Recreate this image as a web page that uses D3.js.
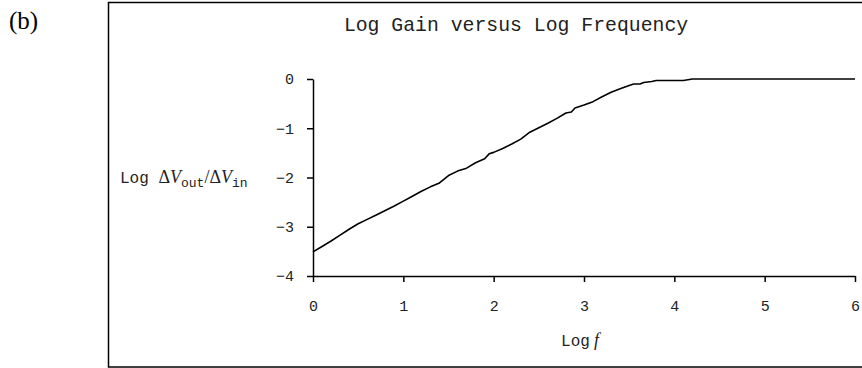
<!DOCTYPE html>
<html>
<head>
<meta charset="utf-8">
<script src="https://cdn.jsdelivr.net/npm/d3@7"></script>
<style>
  html, body { margin: 0; padding: 0; background: #fff; }
  svg { display: block; }
</style>
</head>
<body>
<svg id="chart" width="862" height="368"></svg>
<script>
// Log frequency (decades) and measured log gain
const logF = [0.0, 0.1, 0.2, 0.3, 0.4, 0.5, 0.6, 0.7, 0.8, 0.9, 1.0, 1.1, 1.2, 1.3, 1.4,
  1.5, 1.6, 1.7, 1.8, 1.9, 1.95, 2.0, 2.1, 2.2, 2.3, 2.4, 2.5, 2.6, 2.7, 2.8, 2.86,
  2.9, 3.0, 3.1, 3.2, 3.3, 3.4, 3.5, 3.55, 3.62, 3.66, 3.75, 3.8, 4.1, 4.2, 6.0];
const logGain = [-3.51, -3.40, -3.29, -3.17, -3.05, -2.94, -2.85, -2.76, -2.67, -2.58, -2.48, -2.38, -2.28, -2.19, -2.11,
  -1.96, -1.87, -1.81, -1.70, -1.62, -1.52, -1.49, -1.41, -1.32, -1.22, -1.08, -0.99, -0.90, -0.80, -0.69, -0.67,
  -0.59, -0.53, -0.46, -0.36, -0.27, -0.20, -0.13, -0.10, -0.10, -0.07, -0.05, -0.03, -0.03, 0.0, 0.0];
const xTicks = [0, 1, 2, 3, 4, 5, 6];
const yTicks = [0, -1, -2, -3, -4];

const svg = d3.select("#chart");
const mono = "'Liberation Mono', 'Courier New', monospace";
const serif = "'Liberation Serif', 'Times New Roman', serif";

// panel label
svg.append("text").attr("x", 9).attr("y", 29)
  .attr("font-family", serif).attr("font-size", 25).text("(b)");

// outer frame
svg.append("rect").attr("x", 108.5).attr("y", 2.5).attr("width", 760).attr("height", 364.5)
  .attr("fill", "none").attr("stroke", "#000").attr("stroke-width", 1.5);

const x = d3.scaleLinear().domain([0, 6]).range([313, 855]);
const y = d3.scaleLinear().domain([-4, 0]).range([276, 79]);

const fmt = d => d < 0 ? "\u2212" + Math.abs(d) : String(d);

const xAxis = svg.append("g").attr("transform", "translate(0,276)")
  .call(d3.axisBottom(x).tickValues(xTicks).tickFormat(fmt).tickSize(6).tickSizeOuter(0).tickPadding(18));
const yAxis = svg.append("g").attr("transform", "translate(313,0)")
  .call(d3.axisLeft(y).tickValues(yTicks).tickFormat(fmt).tickSize(6).tickSizeOuter(0).tickPadding(13));

[xAxis, yAxis].forEach(g => {
  g.select(".domain").attr("stroke", "#000").attr("stroke-width", 1.5);
  g.selectAll(".tick line").attr("stroke", "#000").attr("stroke-width", 1.5);
  g.selectAll(".tick text").attr("font-family", mono).attr("font-size", 15).attr("fill", "#222");
});

// gain curve
const pts = logF.map((f, i) => [f, logGain[i]]);
svg.append("path").datum(pts)
  .attr("fill", "none").attr("stroke", "#000").attr("stroke-width", 1.6)
  .attr("stroke-linejoin", "round")
  .attr("d", d3.line().x(d => x(d[0])).y(d => y(d[1])));

// title
svg.append("text").attr("x", 516).attr("y", 31).attr("text-anchor", "middle")
  .attr("font-family", mono).attr("font-size", 19.8).attr("fill", "#222")
  .text("Log Gain versus Log Frequency");

// x-axis label
const xl = svg.append("text").attr("x", 580).attr("y", 346).attr("text-anchor", "middle")
  .attr("font-size", 16).attr("fill", "#222");
xl.append("tspan").attr("font-family", mono).text("Log");
xl.append("tspan").attr("font-family", serif).attr("font-style", "italic").attr("font-size", 18).attr("dx", 4).text("f");

// y-axis label
const yl = svg.append("text").attr("x", 120).attr("y", 183)
  .attr("font-size", 16).attr("fill", "#222");
yl.append("tspan").attr("font-family", mono).text("Log ");
yl.append("tspan").attr("font-family", serif).attr("font-size", 18).text("\u0394");
yl.append("tspan").attr("font-family", serif).attr("font-style", "italic").attr("font-size", 18).text("V");
yl.append("tspan").attr("font-family", mono).attr("font-size", 13).attr("dy", 4).text("out");
yl.append("tspan").attr("font-family", serif).attr("font-size", 18).attr("dy", -4).text("/\u0394");
yl.append("tspan").attr("font-family", serif).attr("font-style", "italic").attr("font-size", 18).text("V");
yl.append("tspan").attr("font-family", mono).attr("font-size", 13).attr("dy", 4).text("in");
</script>
</body>
</html>
